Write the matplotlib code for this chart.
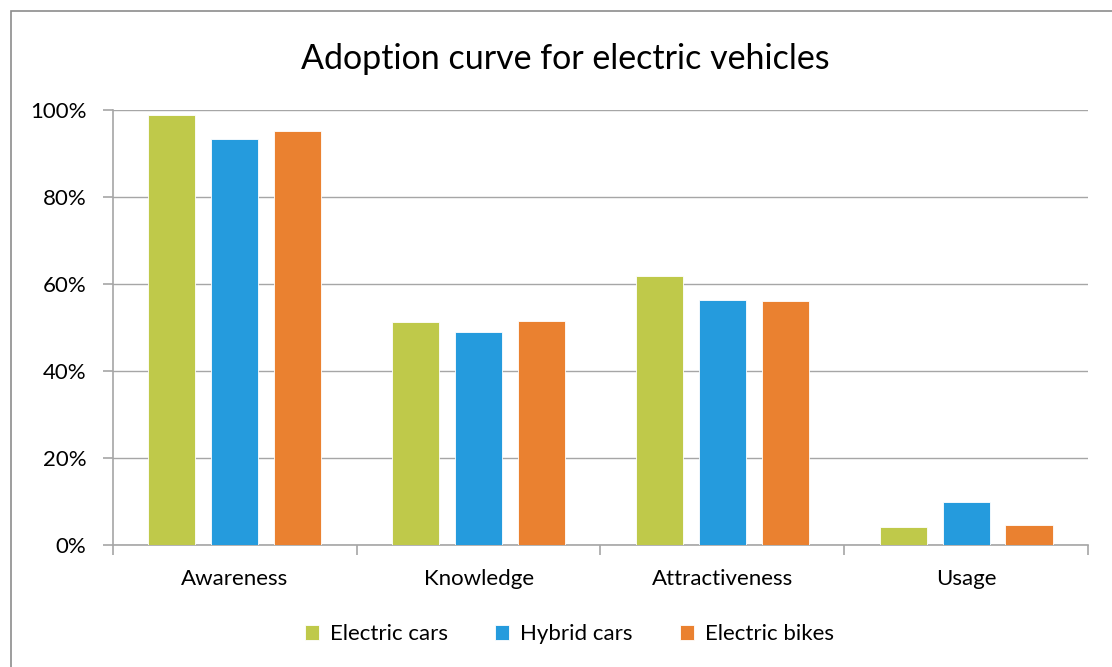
import matplotlib
matplotlib.use('Agg')
import matplotlib.pyplot as plt
import numpy as np
from matplotlib.ticker import PercentFormatter, FixedLocator
from matplotlib.patches import Rectangle

categories = ['Awareness', 'Knowledge', 'Attractiveness', 'Usage']
electric_cars = [98.9, 51.3, 61.8, 4.1]
hybrid_cars = [93.3, 49.0, 56.3, 9.9]
electric_bikes = [95.2, 51.5, 56.1, 4.6]

series = [('Electric cars', electric_cars, '#BFC94A'),
          ('Hybrid cars', hybrid_cars, '#259BDD'),
          ('Electric bikes', electric_bikes, '#EA8130')]

plt.rcParams['font.family'] = ['Lato', 'DejaVu Sans']
grid_col = '#A6A6A6'

fig = plt.figure(figsize=(11.12, 6.67), dpi=100)
ax = fig.add_axes([0.1016, 0.1829, 0.8768, 0.6522])

# outer chart frame
fig.patches.append(Rectangle((11 / 1112, -0.01), 1.2, 1 - 11 / 667 + 0.01,
                             transform=fig.transFigure, fill=False,
                             edgecolor='#8C8C8C', linewidth=1.2))

x = np.arange(len(categories))
width = 0.193
step = 0.258
for i, (name, vals, col) in enumerate(series):
    ax.bar(x + (i - 1) * step, vals, width, color=col, label=name,
           edgecolor='white', linewidth=0.6, zorder=3)

ax.set_xlim(-0.5, len(categories) - 0.5)
ax.set_ylim(0, 100)
ax.set_yticks(np.arange(0, 101, 20))
ax.yaxis.set_major_formatter(PercentFormatter(decimals=0))
ax.grid(axis='y', color=grid_col, linewidth=1, zorder=0)

ax.set_xticks(x)
ax.set_xticklabels(categories)
ax.xaxis.set_minor_locator(FixedLocator(np.arange(-0.5, len(categories), 1)))
ax.tick_params(axis='x', which='major', length=0, pad=17, labelsize=16)
ax.tick_params(axis='x', which='minor', length=7, color=grid_col, width=1.2)
ax.tick_params(axis='y', length=7, color=grid_col, width=1.2, pad=12, labelsize=16)

for s in ['top', 'right']:
    ax.spines[s].set_visible(False)
for s in ['left', 'bottom']:
    ax.spines[s].set_color(grid_col)
    ax.spines[s].set_linewidth(1.2)

fig.text(0.508, 0.912, 'Adoption curve for electric vehicles', ha='center', va='center',
         fontsize=24.5)

fig.legend(loc='center', bbox_to_anchor=(0.512, 0.049), ncol=3, frameon=False,
           fontsize=16, handlelength=0.65, handleheight=0.65, handletextpad=0.5,
           columnspacing=2.1)

plt.savefig('out.png', dpi=100)
